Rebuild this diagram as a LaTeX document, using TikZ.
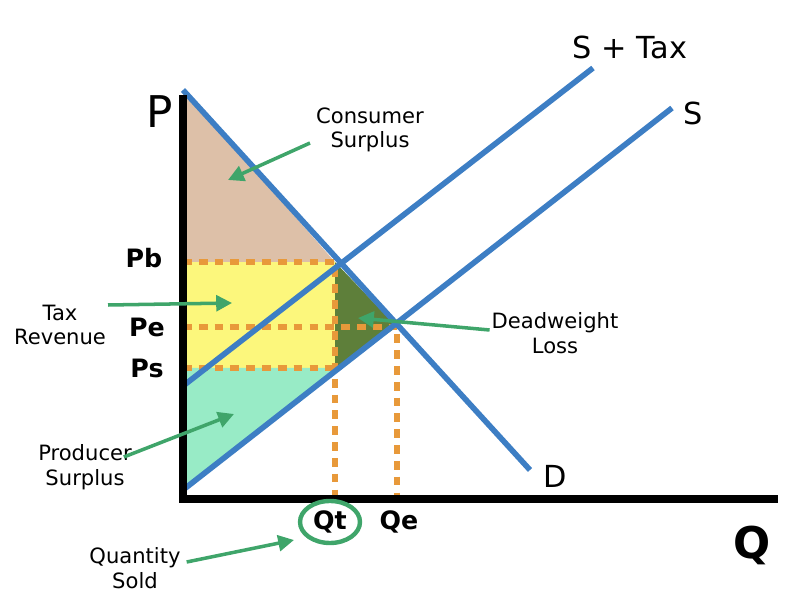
\documentclass[tikz,border=0pt]{standalone}
\usepackage{fontspec}
\setmainfont{DejaVu Sans}
\usetikzlibrary{arrows.meta}
\definecolor{curveblue}{HTML}{3D7EC4}
\definecolor{dotorange}{HTML}{E8993A}
\definecolor{arrowgreen}{HTML}{3FA56A}
\definecolor{cstan}{HTML}{DDC0A8}
\definecolor{taxyellow}{HTML}{FCF77C}
\definecolor{psgreen}{HTML}{98EBC6}
\definecolor{dwlolive}{HTML}{5E7F3A}
\tikzset{
    curve/.style={draw=curveblue,line width=3.2pt},
    guide/.style={draw=dotorange,line width=3.5pt,dash pattern=on 5pt off 4pt},
    pointer/.style={draw=arrowgreen,line width=2pt,-{Triangle[length=9pt,width=9pt]}},
    lbl/.style={font=\large,align=center,inner sep=1pt},
    price/.style={font=\Large\bfseries,inner sep=1pt}
}
\begin{document}
\begin{tikzpicture}[x=0.02cm,y=-0.02cm]
        \useasboundingbox (0,0) rectangle (788,604);
        % areas
        \fill[cstan] (183,90) -- (183,262) -- (335,262) -- cycle;
        \fill[taxyellow] (183,262) rectangle (335,368);
        \fill[psgreen] (183,368) -- (335,368) -- (183,490) -- cycle;
        \fill[dwlolive] (335,262) -- (397,327) -- (335,368) -- cycle;
        % guides
        \coordinate (pb) at (183,262);
        \coordinate (pe) at (183,327);
        \coordinate (ps) at (183,368);
        \coordinate (qt) at (335,497);
        \coordinate (qe) at (397,497);
        \coordinate (et) at (335,262);
        \coordinate (eb) at (335,368);
        \coordinate (ee) at (397,327);
        \draw[guide] (pb) -- (et) -- (qt);
        \draw[guide] (pe) -- (ee) -- (qe);
        \draw[guide] (ps) -- (eb);
        % curves
        \draw[curve] (183,90) -- (530,470);
        \draw[curve] (183,490) -- (672,108);
        \draw[curve] (183,386) -- (593,68);
        % axes
        \draw[black,line width=4pt] (183,95) -- (183,499) -- (778,499);
        \node (P) [font=\Huge] at (160,112) {P};
        \node (Q) [font=\Huge\bfseries] at (752,545) {Q};
        \node (S) [font=\LARGE] at (693,113) {S};
        \node (ST) [font=\LARGE] at (630,47) {S + Tax};
        \node (D) [font=\LARGE] at (555,476) {D};
        \node (Pb) [price] at (144,258) {Pb};
        \node (Pe) [price] at (147,327) {Pe};
        \node (Ps) [price] at (147,368) {Ps};
        \node (Qt) [price] at (330,522) {Qt};
        \node (Qe) [price] at (399,522) {Qe};
        \draw[arrowgreen,line width=2.5pt] (Qt) ellipse [x radius=30,y radius=21];
        % labels and pointers
        \node (cs) [lbl] at (370,130) {Consumer\\Surplus};
        \node (tr) [lbl] at (60,325) {Tax\\Revenue};
        \node (dwl) [lbl] at (555,333) {Deadweight\\Loss};
        \node (prs) [lbl] at (85,467) {Producer\\Surplus};
        \node (qs) [lbl] at (135,568) {Quantity\\Sold};
        \coordinate (csT) at (228,180);
        \coordinate (trT) at (232,303);
        \coordinate (dwlT) at (358,318);
        \coordinate (prsT) at (234,414);
        \coordinate (qsT) at (294,540);
        \draw[pointer] (310,143) -- (csT);
        \draw[pointer] (tr.east) ++(0,-20) -- (trT);
        \draw[pointer] (dwl.west) ++(0,-3) -- (dwlT);
        \draw[pointer] (prs.east) ++(-10,-10) -- (prsT);
        \draw[pointer] (qs.east) ++(4,-6) -- (qsT);
    \end{tikzpicture}
\end{document}
